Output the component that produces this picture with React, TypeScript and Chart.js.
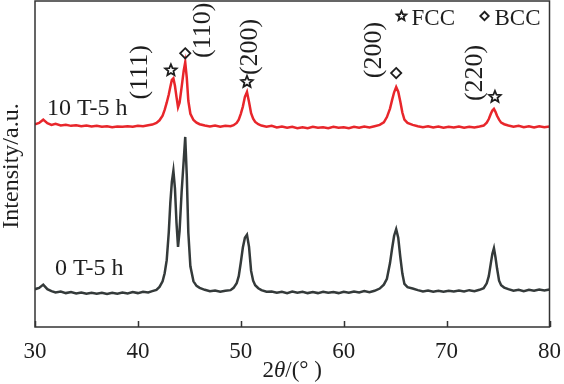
import { useEffect, useRef } from 'react';
import { Chart, registerables } from 'chart.js';

Chart.register(...registerables);

// 2θ grid (degrees)
const ANGLES = [
  30.0, 30.4, 30.8, 31.2, 31.6, 32.0, 32.5, 33.0, 33.5, 34.0, 34.5, 35.0, 35.5, 36.0, 36.5, 37.0, 37.5, 38.0, 38.5, 39.0,
  39.5, 40.0, 40.5, 41.0, 41.4,
  41.8, 42.1, 42.4, 42.6, 42.8, 43.0, 43.15, 43.3, 43.45, 43.6, 43.75, 43.9, 44.05, 44.25, 44.45, 44.6, 44.75, 44.9, 45.1, 45.4,
  45.7, 46.0, 46.5, 47.0, 47.5, 48.0, 48.5, 49.0,
  49.3, 49.6, 49.8, 50.0, 50.2, 50.4, 50.6, 50.8, 51.0, 51.2, 51.4, 51.7, 52.0, 52.5,
  53.0, 53.5, 54.0, 54.5, 55.0, 55.5, 56.0, 56.5, 57.0, 57.5, 58.0, 58.5, 59.0, 59.5, 60.0, 60.5, 61.0, 61.5, 62.0, 62.5, 63.0,
  63.5, 63.9, 64.2, 64.5, 64.7, 64.9, 65.1, 65.3, 65.5, 65.7, 65.9, 66.2, 66.7,
  67.2, 67.7, 68.2, 68.7, 69.2, 69.7, 70.2, 70.7, 71.2, 71.7, 72.2, 72.7, 73.2,
  73.6, 73.9, 74.1, 74.3, 74.45, 74.6, 74.75, 74.9, 75.1, 75.3, 75.6, 76.0,
  76.5, 77.0, 77.5, 78.0, 78.5, 79.0, 79.5, 80.0,
];

// 10 T-5 h pattern (a.u., stacked above)
const RED_10T = [
  62.2, 62.6, 63.6, 62.5, 62.0, 62.3, 61.8, 62.0, 61.7, 61.9, 61.6, 61.8, 61.5, 61.7, 61.4, 61.6, 61.3, 61.5, 61.4, 61.6,
  61.4, 61.7, 61.6, 61.9, 62.1,
  62.6, 63.4, 64.8, 66.6, 68.8, 71.3, 73.6, 75.8, 76.3, 74.0, 70.6, 67.4, 68.8, 73.6, 78.6, 81.2, 76.5, 69.4, 65.4, 63.5,
  62.7, 62.2, 61.8, 61.5, 61.8, 61.4, 61.7, 61.6,
  61.9, 62.6, 63.6, 65.4, 67.6, 70.6, 72.1, 69.0, 65.6, 63.9, 62.9, 62.2, 61.8, 61.4,
  61.7, 61.2, 61.5, 61.1, 61.4, 61.0, 61.3, 61.0, 61.4, 61.1, 61.3, 61.0, 61.4, 61.1, 61.3, 61.0, 61.4, 61.1, 61.5, 61.2, 61.6,
  62.0, 62.8, 64.4, 67.0, 69.6, 72.0, 73.6, 72.2, 69.2, 65.8, 63.6, 62.6, 62.0,
  61.6, 61.3, 61.6, 61.2, 61.5, 61.1, 61.4, 61.2, 61.5, 61.1, 61.4, 61.2, 61.5,
  61.8, 62.7, 63.8, 65.4, 66.4, 66.9, 66.0, 64.8, 63.6, 62.7, 62.2, 61.8,
  61.4, 61.7, 61.3, 61.6, 61.2, 61.6, 61.3, 61.5,
];

// 0 T-5 h pattern (a.u.)
const BLACK_0T = [
  11.6, 12.0, 13.0, 11.6, 11.0, 10.6, 10.9, 10.4, 10.7, 10.3, 10.6, 10.2, 10.5, 10.2, 10.5, 10.1, 10.5, 10.2, 10.6, 10.3,
  10.7, 10.4, 10.8, 10.6, 11.0,
  11.4, 12.3, 14.0, 16.5, 20.5, 29.0, 38.0, 44.5, 47.9, 42.5, 32.0, 24.6, 29.5, 41.5, 51.0, 58.3, 46.5, 29.0, 18.6, 14.0,
  12.6, 12.0, 11.4, 11.0, 11.2, 10.8, 11.1, 11.3,
  12.0, 13.4, 15.6, 19.8, 24.4, 27.4, 28.3, 24.6, 17.2, 14.2, 12.8, 11.9, 11.3, 10.8,
  10.9, 10.5, 10.8, 10.4, 10.9, 10.5, 10.8, 10.4, 10.7, 10.4, 10.8, 10.5, 10.7, 10.4, 10.8, 10.5, 10.9, 10.6, 11.0, 10.7, 11.1,
  11.8, 13.0, 14.8, 19.6, 24.0, 28.0, 30.0, 27.4, 21.5, 16.4, 13.2, 12.2, 11.8,
  11.3, 10.9, 11.2, 10.8, 11.1, 10.8, 11.1, 10.9, 11.2, 10.9, 11.3, 11.0, 11.4,
  11.9, 13.4, 15.6, 19.6, 22.5, 24.2, 21.4, 18.0, 14.2, 12.8, 12.1, 11.6,
  11.1, 11.4, 11.0, 11.4, 11.1, 11.5, 11.2, 11.5,
];

const SERIES_NAMES = ['10 T-5 h', '0 T-5 h'];
const X_TICKS = [30, 40, 50, 60, 70, 80];
const PEAK_ANGLES = [43.45, 44.6, 50.6, 65.1, 74.6];
const PEAK_PHASES = ['FCC', 'BCC', 'FCC', 'BCC', 'FCC'];
const PEAK_HKL = ['(111)', '(110)', '(200)', '(200)', '(220)'];
const LEGEND_PHASES = ['FCC', 'BCC'];
const X_TITLE_PARTS = ['2', 'θ', '/(° )'];
const Y_TITLE = 'Intensity/a.u.';

const FONT = '"Liberation Serif", "Times New Roman", serif';
const RED = '#e8262b';
const DARK = '#343a3a';
const INK = '#1e1e1e';

// style offsets (pixels) for markers and hkl labels
const MARK_DX = [-2.5, 0, 0, 0, 1];
const MARK_DY = [-8, -9, -10, -14, -12];
const LABEL_DX = [-31, 18, 3, -22, -20];
const LABEL_DY = [2, -23, -35, -23, -24];

function drawStar(ctx: CanvasRenderingContext2D, cx: number, cy: number, R: number) {
  const r = R * 0.45;
  ctx.beginPath();
  for (let i = 0; i < 10; i++) {
    const rad = i % 2 === 0 ? R : r;
    const a = -Math.PI / 2 + (i * Math.PI) / 5;
    const px = cx + rad * Math.cos(a);
    const py = cy + rad * Math.sin(a);
    if (i === 0) ctx.moveTo(px, py);
    else ctx.lineTo(px, py);
  }
  ctx.closePath();
  ctx.stroke();
}

function drawDiamond(ctx: CanvasRenderingContext2D, cx: number, cy: number, R: number) {
  ctx.beginPath();
  ctx.moveTo(cx, cy - R);
  ctx.lineTo(cx + R, cy);
  ctx.lineTo(cx, cy + R);
  ctx.lineTo(cx - R, cy);
  ctx.closePath();
  ctx.stroke();
}

function drawMarker(ctx: CanvasRenderingContext2D, phase: string, cx: number, cy: number, size: number) {
  if (phase === 'FCC') drawStar(ctx, cx, cy, size);
  else drawDiamond(ctx, cx, cy, size * 0.85);
}

const decorPlugin = {
  id: 'decor',
  afterDraw(chart: any) {
    const { ctx, chartArea: a, scales } = chart;
    const xs = scales.x;
    const ys = scales.y;
    ctx.save();

    // frame
    ctx.strokeStyle = '#333333';
    ctx.lineWidth = 1.5;
    ctx.strokeRect(a.left, a.top, a.right - a.left, a.bottom - a.top);

    // inward ticks on the bottom axis
    ctx.beginPath();
    X_TICKS.forEach((v) => {
      const px = Math.round(xs.getPixelForValue(v)) + 0.5;
      ctx.moveTo(px, a.bottom);
      ctx.lineTo(px, a.bottom - 6);
    });
    ctx.stroke();

    // peak markers and hkl labels
    ctx.strokeStyle = INK;
    ctx.fillStyle = INK;
    ctx.lineWidth = 1.8;
    PEAK_ANGLES.forEach((ang, i) => {
      const idx = ANGLES.indexOf(ang);
      const px = xs.getPixelForValue(ang);
      const py = ys.getPixelForValue(RED_10T[idx]);
      const mx = px + MARK_DX[i];
      const my = py + MARK_DY[i];
      drawMarker(ctx, PEAK_PHASES[i], mx, my, 6);
      ctx.save();
      ctx.translate(mx + LABEL_DX[i], my + LABEL_DY[i]);
      ctx.rotate(-Math.PI / 2);
      ctx.font = `26px ${FONT}`;
      ctx.textAlign = 'center';
      ctx.textBaseline = 'middle';
      ctx.fillText(PEAK_HKL[i], 0, 0);
      ctx.restore();
    });

    // legend
    ctx.font = `23px ${FONT}`;
    ctx.textAlign = 'left';
    ctx.textBaseline = 'alphabetic';
    const legX = [a.right - 148, a.right - 65];
    LEGEND_PHASES.forEach((ph, i) => {
      ctx.lineWidth = 1.8;
      drawMarker(ctx, ph, legX[i], a.top + 15, 5);
      ctx.fillText(ph, legX[i] + 10, a.top + 24);
    });

    // sample labels
    ctx.font = `24px ${FONT}`;
    ctx.fillText(SERIES_NAMES[0], a.left + 12, ys.getPixelForValue(RED_10T[0]) - 9);
    ctx.fillText(SERIES_NAMES[1], a.left + 20, ys.getPixelForValue(BLACK_0T[0]) - 14);

    // x title with italic theta
    const fontN = `23px ${FONT}`;
    const fontI = `italic 23px ${FONT}`;
    const widths = X_TITLE_PARTS.map((t, i) => {
      ctx.font = i === 1 ? fontI : fontN;
      return ctx.measureText(t).width;
    });
    const total = widths.reduce((s, w) => s + w, 0);
    let tx = (a.left + a.right) / 2 - total / 2;
    const ty = a.bottom + 50;
    X_TITLE_PARTS.forEach((t, i) => {
      ctx.font = i === 1 ? fontI : fontN;
      ctx.fillText(t, tx, ty);
      tx += widths[i];
    });

    // y title
    ctx.save();
    ctx.translate(a.left - 17, (a.top + a.bottom) / 2 + 2);
    ctx.rotate(-Math.PI / 2);
    ctx.font = `24px ${FONT}`;
    ctx.textAlign = 'center';
    ctx.fillText(Y_TITLE, 0, 0);
    ctx.restore();

    ctx.restore();
  },
};

export default function App() {
  const ref = useRef<HTMLCanvasElement | null>(null);

  useEffect(() => {
    document.body.style.margin = '0';
    const canvas = ref.current;
    if (!canvas) return;
    const chart = new Chart(canvas, {
      type: 'line',
      data: {
        datasets: [
          {
            label: SERIES_NAMES[0],
            data: ANGLES.map((x, i) => ({ x, y: RED_10T[i] })),
            borderColor: RED,
            borderWidth: 2.5,
            pointRadius: 0,
            tension: 0,
          },
          {
            label: SERIES_NAMES[1],
            data: ANGLES.map((x, i) => ({ x, y: BLACK_0T[i] })),
            borderColor: DARK,
            borderWidth: 2.5,
            pointRadius: 0,
            tension: 0,
          },
        ],
      },
      options: {
        animation: false,
        responsive: false,
        devicePixelRatio: 1,
        layout: { padding: { top: 1, right: 14, left: 35, bottom: 0 } },
        plugins: { legend: { display: false }, tooltip: { enabled: false } },
        scales: {
          x: {
            type: 'linear',
            min: 30,
            max: 80,
            afterFit: (s: any) => {
              s.height = 57;
            },
            afterBuildTicks: (s: any) => {
              s.ticks = X_TICKS.map((v) => ({ value: v }));
            },
            border: { display: false },
            grid: { display: false },
            ticks: {
              padding: 3,
              color: INK,
              font: { family: FONT, size: 23 },
              maxRotation: 0,
            },
          },
          y: {
            display: false,
            min: 0,
            max: 100,
          },
        },
      },
      plugins: [decorPlugin],
    });
    return () => chart.destroy();
  }, []);

  return <canvas ref={ref} width={564} height={384} style={{ display: 'block' }} />;
}
